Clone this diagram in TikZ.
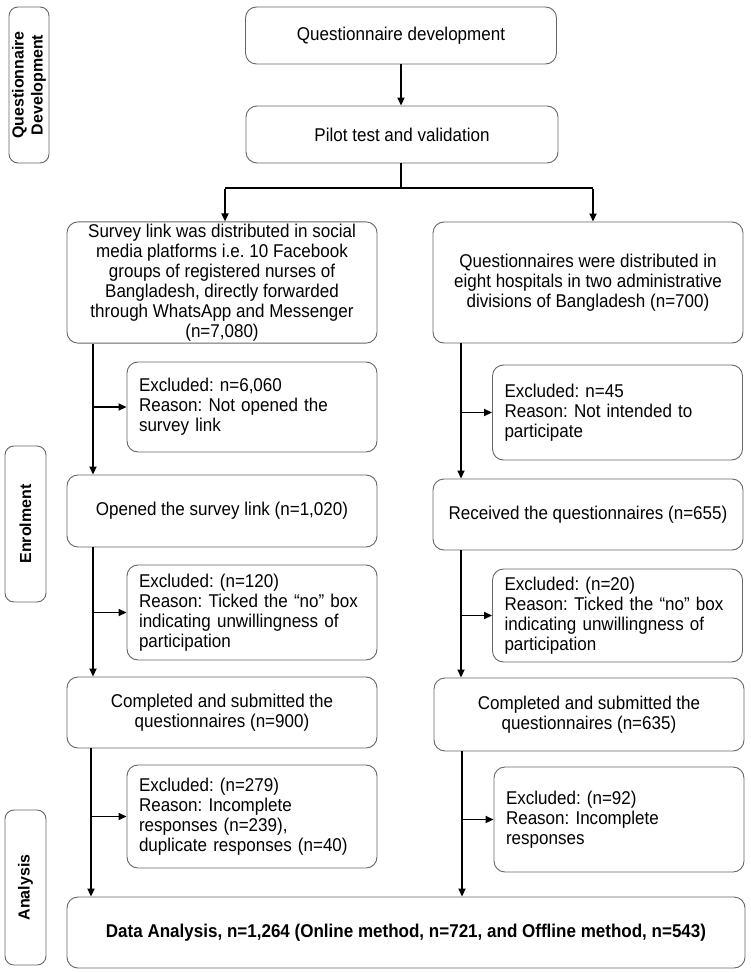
\documentclass[tikz,border=0pt]{standalone}
\usepackage{fontspec}
\setmainfont[FakeStretch=0.92]{Liberation Sans}
\newfontfamily\sidefont{Liberation Sans}
\usetikzlibrary{arrows.meta}
\tikzset{
  box/.style={draw=black!60, line width=0.9pt, rounded corners=11pt, align=center,
    font=\frenchspacing\fontsize{18.5}{20}\selectfont, inner sep=2pt, fill=white},
  exbox/.style={box, align=left, text width=226pt, inner xsep=12pt, inner ysep=2pt},
  side/.style={draw=black!60, line width=0.9pt, rounded corners=9pt, rotate=90,
    align=center, font=\sidefont\bfseries\fontsize{16}{19}\selectfont, inner sep=1pt},
  arr/.style={line width=1.7pt, -{Triangle[length=8pt,width=7pt]}},
  trunk/.style={line width=1.7pt}
}
\begin{document}
\begin{tikzpicture}[x=1pt,y=-1pt]
\useasboundingbox (0,0) rectangle (750,973);
% side labels
\node[side, minimum width=156pt, minimum height=40pt] (sqd) at (29,85) {Questionnaire\\Development};
\node[side, minimum width=156pt, minimum height=41pt] (sen) at (25.5,524) {Enrolment};
\node[side, minimum width=155pt, minimum height=41pt] (san) at (25.5,887.5) {Analysis};
% top
\node[box, minimum width=311pt, minimum height=57pt] (qd) at (401,35.5) {Questionnaire development};
\node[box, minimum width=312pt, minimum height=57pt] (pilot) at (402,134.5) {Pilot test and validation};
% left column
\node[box, minimum width=310pt, minimum height=121pt] (survey) at (222,282.5) {Survey link was distributed in social\\media platforms i.e. 10 Facebook\\groups of registered nurses of\\Bangladesh, directly forwarded\\through WhatsApp and Messenger\\(n=7,080)};
\node[exbox, minimum height=90pt] (ex1L) at (252,407) {Excluded: n=6,060\\Reason: Not opened the\\survey link};
\node[box, minimum width=310pt, minimum height=72pt] (openL) at (222,511) {Opened the survey link (n=1,020)};
\node[exbox, minimum height=95pt] (ex2L) at (252,612.5) {Excluded: (n=120)\\Reason: Ticked the ``no'' box\\indicating unwillingness of\\participation};
\node[box, minimum width=310pt, minimum height=71pt] (compL) at (222,712.5) {Completed and submitted the\\questionnaires (n=900)};
\node[exbox, minimum height=103pt] (ex3L) at (252,816.5) {Excluded: (n=279)\\Reason: Incomplete\\responses (n=239),\\duplicate responses (n=40)};
% right column
\node[box, minimum width=310pt, minimum height=121pt] (hosp) at (588,282.5) {Questionnaires were distributed in\\eight hospitals in two administrative\\divisions of Bangladesh (n=700)};
\node[exbox, minimum height=95pt] (ex1R) at (617.5,412.5) {Excluded: n=45\\Reason: Not intended to\\participate};
\node[box, minimum width=310pt, minimum height=71pt] (recR) at (588,514.5) {Received the questionnaires (n=655)};
\node[exbox, minimum height=93pt] (ex2R) at (617.5,615.5) {Excluded: (n=20)\\Reason: Ticked the ``no'' box\\indicating unwillingness of\\participation};
\node[box, minimum width=310pt, minimum height=73pt] (compR) at (589,714.5) {Completed and submitted the\\questionnaires (n=635)};
\node[exbox, minimum height=105pt] (ex3R) at (619,819.5) {Excluded: (n=92)\\Reason: Incomplete\\responses};
% final
\node[box, minimum width=678pt, minimum height=71pt, font=\frenchspacing\bfseries\fontsize{18.5}{20}\selectfont] (final) at (406,932.5) {Data Analysis, n=1,264 (Online method, n=721, and Offline method, n=543)};
% connectors top
\coordinate (j) at (401,188);
\coordinate (jl) at (225,188);
\coordinate (jr) at (593,188);
\draw[arr] (qd.south -| j) -- (pilot.north -| j);
\draw[trunk] (pilot.south -| j) -- (j);
\draw[line width=2.2pt] (jl) -- (jr);
\draw[arr] ([yshift=-1pt]jl) -- (jl |- survey.north);
\draw[arr] ([yshift=-1pt]jr) -- (jr |- hosp.north);
% left trunk
\coordinate (lx) at (93,0);
\coordinate (lx2) at (91,0);
\draw[arr] (survey.south -| lx) -- (openL.north -| lx);
\draw[arr] (ex1L.west -| lx) -- (ex1L.west);
\draw[arr] (openL.south -| lx) -- (compL.north -| lx);
\draw[arr] (ex2L.west -| lx) -- (ex2L.west);
\draw[arr] (compL.south -| lx2) -- (final.north -| lx2);
\draw[arr] (ex3L.west -| lx2) -- (ex3L.west);
% right trunk
\coordinate (rx) at (461,0);
\coordinate (rx2) at (462,0);
\draw[arr] (hosp.south -| rx) -- (recR.north -| rx);
\draw[arr] (ex1R.west -| rx) -- (ex1R.west);
\draw[arr] (recR.south -| rx) -- (compR.north -| rx);
\draw[arr] (ex2R.west -| rx) -- (ex2R.west);
\draw[arr] (compR.south -| rx2) -- (final.north -| rx2);
\draw[arr] (ex3R.west -| rx2) -- (ex3R.west);
\end{tikzpicture}
\end{document}
